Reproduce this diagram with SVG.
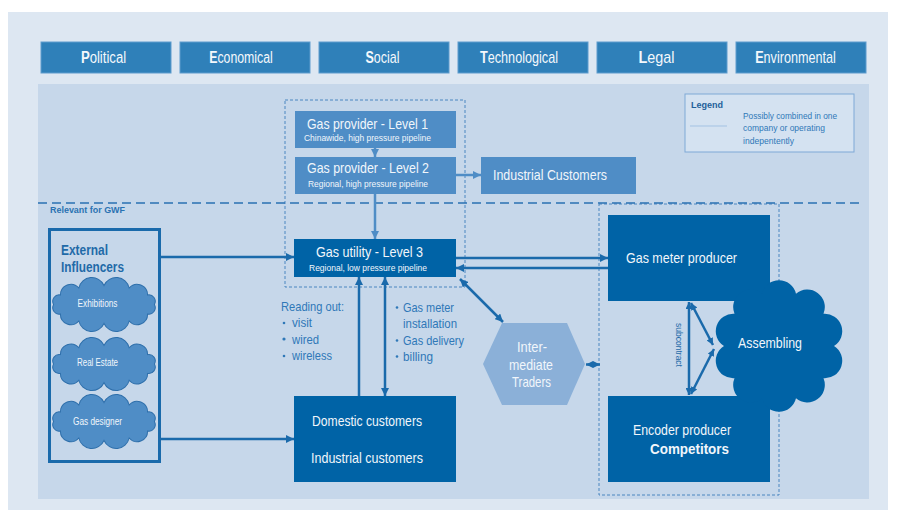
<svg xmlns="http://www.w3.org/2000/svg" width="904" height="515" viewBox="0 0 904 515">
  <defs>
    <style>
      .t { font-family: "Liberation Sans", Arial, sans-serif; }
      .pest { fill: #2f80b9; stroke: #5e9ccd; stroke-width: 1; }
      .pestT { font-size: 16px; fill: #f4f8fc; text-anchor: middle; }
      .mid { fill: #4f8dc6; }
      .dark { fill: #0063a6; }
      .wT { fill: #f1f6fb; }
      .bT { fill: #2f78b8; }
      .dash { fill: none; stroke: #4a86c0; stroke-width: 1; stroke-dasharray: 3 2; }
      .conn { fill: none; stroke: #1a6aab; stroke-width: 2.5; }
      .connL { fill: none; stroke: #4f8dc6; stroke-width: 2.5; }
      .cloudS { fill: #4f8dc6; stroke: #2e6fab; stroke-width: 0.8; }
    </style>
    <marker id="ah" viewBox="0 0 10 10" refX="10" refY="5" markerWidth="8" markerHeight="8" markerUnits="userSpaceOnUse" orient="auto-start-reverse">
      <path d="M0,0 L10,5 L0,10 z" fill="#1a6aab"/>
    </marker>
    <marker id="ahL" viewBox="0 0 10 10" refX="10" refY="5" markerWidth="8" markerHeight="8" markerUnits="userSpaceOnUse" orient="auto-start-reverse">
      <path d="M0,0 L10,5 L0,10 z" fill="#4f8dc6"/>
    </marker>
    <marker id="ahS" viewBox="0 0 10 10" refX="10" refY="5" markerWidth="7" markerHeight="7" markerUnits="userSpaceOnUse" orient="auto-start-reverse">
      <path d="M0,0 L10,5 L0,10 z" fill="#1a6aab"/>
    </marker>
    <!-- small cloud outline centred on 0,0 -->
    <path id="cloudSmall" d="M40,0 A5.1,5.1 0 0 1 34.6,7.5 A8.3,8.3 0 0 1 20,13 A10.6,10.6 0 0 1 0,15 A10.6,10.6 0 0 1 -20,13 A8.3,8.3 0 0 1 -34.6,7.5 A5.1,5.1 0 0 1 -40,0 A5.1,5.1 0 0 1 -34.6,-7.5 A8.3,8.3 0 0 1 -20,-13 A10.6,10.6 0 0 1 0,-15 A10.6,10.6 0 0 1 20,-13 A8.3,8.3 0 0 1 34.6,-7.5 A5.1,5.1 0 0 1 40,0 Z"/>
  </defs>

  <!-- backgrounds -->
  <rect x="8" y="12" width="880" height="498" fill="#dde7f2"/>
  <rect x="38" y="84" width="831" height="415" fill="#c6d7ea"/>

  <!-- PESTLE bar: bold initial, narrowed with a horizontal scale -->
  <g id="pestle" class="t">
    <g id="political"><rect class="pest" x="41" y="42" width="130" height="31"/>
      <text class="pestT" transform="translate(103.5,63) scale(0.82,1)"><tspan font-weight="bold">P</tspan>olitical</text></g>
    <g id="economical"><rect class="pest" x="180" y="42" width="130" height="31"/>
      <text class="pestT" transform="translate(241,63) scale(0.77,1)"><tspan font-weight="bold">E</tspan>conomical</text></g>
    <g id="social"><rect class="pest" x="319" y="42" width="130" height="31"/>
      <text class="pestT" transform="translate(382.5,63) scale(0.78,1)"><tspan font-weight="bold">S</tspan>ocial</text></g>
    <g id="technological"><rect class="pest" x="458" y="42" width="130" height="31"/>
      <text class="pestT" transform="translate(519,63) scale(0.79,1)"><tspan font-weight="bold">T</tspan>echnological</text></g>
    <g id="legal"><rect class="pest" x="597" y="42" width="130" height="31"/>
      <text class="pestT" transform="translate(656.5,63) scale(0.9,1)"><tspan font-weight="bold">L</tspan>egal</text></g>
    <g id="environmental"><rect class="pest" x="736" y="42" width="130" height="31"/>
      <text class="pestT" transform="translate(795.5,63) scale(0.79,1)"><tspan font-weight="bold">E</tspan>nvironmental</text></g>
  </g>

  <!-- legend -->
  <g id="legend" class="t">
    <rect x="685" y="94" width="169" height="58" fill="#d4e2f1" stroke="#7fa9d6" stroke-width="1"/>
    <text x="691" y="108" font-size="9" font-weight="bold" fill="#1f5f9a" textLength="32" lengthAdjust="spacingAndGlyphs">Legend</text>
    <line x1="690" y1="126" x2="727" y2="126" stroke="#a3c2e3" stroke-width="1"/>
    <text x="743" y="118.5" font-size="9" class="bT" textLength="94" lengthAdjust="spacingAndGlyphs">Possibly combined in one</text>
    <text x="743" y="131" font-size="9" class="bT" textLength="82" lengthAdjust="spacingAndGlyphs">company or operating</text>
    <text x="743" y="143.5" font-size="9" class="bT" textLength="51" lengthAdjust="spacingAndGlyphs">indepentently</text>
  </g>

  <!-- grouping frames -->
  <rect class="dash" x="285" y="100" width="180" height="187"/>
  <rect class="dash" x="599" y="204" width="180" height="291"/>
  <line x1="38" y1="203" x2="862" y2="203" stroke="#2a72b2" stroke-width="1.6" stroke-dasharray="9 5"/>
  <text class="t" x="50" y="213" font-size="9" font-weight="bold" fill="#2a72b2" textLength="75" lengthAdjust="spacingAndGlyphs">Relevant for GWF</text>

  <!-- gas providers -->
  <g id="provider1" class="t">
    <rect class="mid" x="295" y="111" width="161" height="37"/>
    <text class="wT" x="307" y="129" font-size="15" textLength="121" lengthAdjust="spacingAndGlyphs">Gas provider - Level 1</text>
    <text class="wT" x="304" y="141" font-size="9.5" textLength="127" lengthAdjust="spacingAndGlyphs">Chinawide, high pressure pipeline</text>
  </g>
  <g id="provider2" class="t">
    <rect class="mid" x="295" y="157" width="161" height="37"/>
    <text class="wT" x="307" y="172.5" font-size="15" textLength="122" lengthAdjust="spacingAndGlyphs">Gas provider - Level 2</text>
    <text class="wT" x="308" y="187" font-size="9.5" textLength="120" lengthAdjust="spacingAndGlyphs">Regional, high pressure pipeline</text>
  </g>
  <g id="industrial-top" class="t">
    <rect class="mid" x="481" y="157" width="155" height="37"/>
    <text class="wT" x="493" y="179.5" font-size="15" textLength="114" lengthAdjust="spacingAndGlyphs">Industrial Customers</text>
  </g>

  <!-- gas utility -->
  <g id="utility" class="t">
    <rect class="dark" x="294" y="239" width="162" height="38"/>
    <text class="wT" x="316" y="256.5" font-size="15" textLength="107" lengthAdjust="spacingAndGlyphs">Gas utility - Level 3</text>
    <text class="wT" x="309" y="270.5" font-size="9.5" textLength="118" lengthAdjust="spacingAndGlyphs">Regional, low pressure pipeline</text>
  </g>

  <!-- customers -->
  <g id="customers" class="t">
    <rect class="dark" x="294" y="396" width="162" height="86"/>
    <text class="wT" x="312" y="426" font-size="15" textLength="110" lengthAdjust="spacingAndGlyphs">Domestic customers</text>
    <text class="wT" x="311" y="463" font-size="15" textLength="112" lengthAdjust="spacingAndGlyphs">Industrial customers</text>
  </g>

  <!-- external influencers -->
  <g id="external" class="t">
    <rect x="49.5" y="229.5" width="110" height="232" fill="#c6d7ea" stroke="#1a6aab" stroke-width="3"/>
    <text x="61" y="254.5" font-size="14" font-weight="bold" fill="#1f6aa8" textLength="47" lengthAdjust="spacingAndGlyphs">External</text>
    <text x="61" y="272" font-size="14" font-weight="bold" fill="#1f6aa8" textLength="63" lengthAdjust="spacingAndGlyphs">Influencers</text>
    <g id="exhibitions">
      <use href="#cloudSmall" class="cloudS" transform="translate(104,304.5) scale(1.26,1.27)"/>
      <text class="wT" x="97.5" y="307" font-size="10" text-anchor="middle" textLength="40" lengthAdjust="spacingAndGlyphs">Exhibitions</text>
    </g>
    <g id="real-estate">
      <use href="#cloudSmall" class="cloudS" transform="translate(104,364) scale(1.26,1.25)"/>
      <text class="wT" x="97.5" y="366" font-size="10" text-anchor="middle" textLength="41" lengthAdjust="spacingAndGlyphs">Real Estate</text>
    </g>
    <g id="gas-designer">
      <use href="#cloudSmall" class="cloudS" transform="translate(104,421.5) scale(1.26,1.27)"/>
      <text class="wT" x="97.5" y="424.5" font-size="10" text-anchor="middle" textLength="49" lengthAdjust="spacingAndGlyphs">Gas designer</text>
    </g>
  </g>

  <!-- service labels -->
  <g id="reading-out" class="t bT" font-size="13">
    <text x="281" y="310.5" textLength="63" lengthAdjust="spacingAndGlyphs">Reading out:</text>
    <circle cx="284" cy="323" r="1.3" fill="#2f78b8"/><text x="292" y="327" textLength="20" lengthAdjust="spacingAndGlyphs">visit</text>
    <circle cx="284" cy="339" r="1.6" fill="#2f78b8"/><text x="292" y="343.5" textLength="27" lengthAdjust="spacingAndGlyphs">wired</text>
    <circle cx="284" cy="356" r="1.3" fill="#2f78b8"/><text x="292" y="360" textLength="40" lengthAdjust="spacingAndGlyphs">wireless</text>
  </g>
  <g id="services" class="t bT" font-size="13">
    <circle cx="397" cy="307.5" r="1.3" fill="#2f78b8"/><text x="403" y="312" textLength="51" lengthAdjust="spacingAndGlyphs">Gas meter</text>
    <text x="403" y="328" textLength="54" lengthAdjust="spacingAndGlyphs">installation</text>
    <circle cx="397" cy="340.5" r="1.3" fill="#2f78b8"/><text x="403" y="345" textLength="61" lengthAdjust="spacingAndGlyphs">Gas delivery</text>
    <circle cx="397" cy="356.5" r="1.3" fill="#2f78b8"/><text x="403" y="361" textLength="30" lengthAdjust="spacingAndGlyphs">billing</text>
  </g>

  <!-- intermediate traders -->
  <g id="traders" class="t">
    <polygon points="483,364 502,323 567,323 585,364 567,405 502,405" fill="#8bb0d8"/>
    <text class="wT" x="532" y="352" font-size="15" text-anchor="middle" textLength="30" lengthAdjust="spacingAndGlyphs">Inter-</text>
    <text class="wT" x="531" y="369.5" font-size="15" text-anchor="middle" textLength="44" lengthAdjust="spacingAndGlyphs">mediate</text>
    <text class="wT" x="531.5" y="387" font-size="15" text-anchor="middle" textLength="39" lengthAdjust="spacingAndGlyphs">Traders</text>
  </g>

  <!-- producers -->
  <g id="meter-producer" class="t">
    <rect class="dark" x="608" y="215" width="162" height="86"/>
    <text class="wT" x="626" y="263" font-size="15" textLength="111" lengthAdjust="spacingAndGlyphs">Gas meter producer</text>
  </g>
  <g id="encoder-producer" class="t">
    <rect class="dark" x="608" y="396" width="162" height="86"/>
    <text class="wT" x="633" y="435" font-size="15" textLength="98" lengthAdjust="spacingAndGlyphs">Encoder producer</text>
    <text class="wT" x="650" y="453.5" font-size="15" font-weight="bold" textLength="79" lengthAdjust="spacingAndGlyphs">Competitors</text>
  </g>
  <g id="assembling" class="t">
    <path class="dark" d="M834,346 A17.5,17.5 0 0 1 823.5,378.3 A17.5,17.5 0 0 1 796,398.3 A17.5,17.5 0 0 1 762,398.3 A17.5,17.5 0 0 1 734.5,378.3 A17.5,17.5 0 0 1 724,346 A17.5,17.5 0 0 1 734.5,313.7 A17.5,17.5 0 0 1 762,293.7 A17.5,17.5 0 0 1 796,293.7 A17.5,17.5 0 0 1 823.5,313.7 A17.5,17.5 0 0 1 834,346 Z"/>
    <text class="wT" x="738" y="348" font-size="15" textLength="64" lengthAdjust="spacingAndGlyphs">Assembling</text>
  </g>
  <text class="t" font-size="8.5" fill="#1f6aa8" transform="translate(676,345) rotate(90)" text-anchor="middle" textLength="44" lengthAdjust="spacingAndGlyphs">subcontract</text>

  <!-- connectors -->
  <g id="connectors">
    <path class="connL" stroke-width="1.5" d="M375,148 V157" marker-end="url(#ahL)"/>
    <path class="connL" stroke-width="2" d="M456,175 H481" marker-end="url(#ahL)"/>
    <path class="connL" d="M375,194 V239" marker-end="url(#ahL)"/>
    <path class="conn" d="M160,257 H294" marker-end="url(#ah)"/>
    <path class="conn" d="M160,439 H294" marker-end="url(#ah)"/>
    <path class="conn" d="M456,258 H608" marker-end="url(#ah)"/>
    <path class="conn" d="M608,268 H456" marker-end="url(#ah)"/>
    <path class="conn" d="M460,279 L503,322" marker-start="url(#ah)" marker-end="url(#ah)"/>
    <path class="conn" d="M359,396 V277" marker-end="url(#ah)"/>
    <path class="conn" d="M385,277 V396" marker-start="url(#ah)" marker-end="url(#ah)"/>
    <path class="conn" stroke-width="2" d="M586,364.5 H600" marker-start="url(#ahS)" marker-end="url(#ahS)"/>
    <path class="conn" stroke-width="2" d="M689,302 V395" marker-start="url(#ahS)" marker-end="url(#ahS)"/>
    <path class="conn" stroke-width="2" d="M691,303 L713,345" marker-start="url(#ahS)" marker-end="url(#ahS)"/>
    <path class="conn" stroke-width="2" d="M691,394 L714,349" marker-start="url(#ahS)" marker-end="url(#ahS)"/>
  </g>
</svg>
